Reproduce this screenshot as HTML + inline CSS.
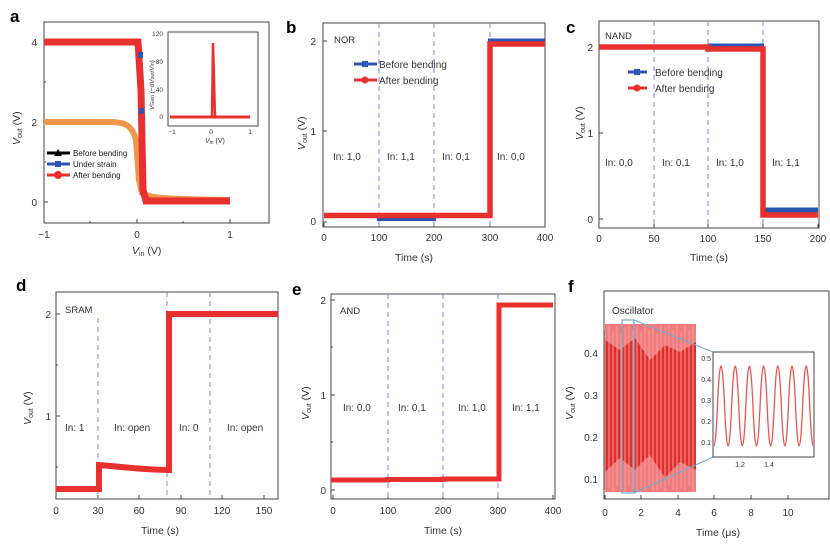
<!DOCTYPE html>
<html><head><meta charset="utf-8"><style>
body{margin:0;background:#fff}
svg{display:block;font-family:"Liberation Sans",sans-serif}
.t{font-size:10px;fill:#333}
.lb{font-size:10.5px;fill:#333}
.L{font-size:17px;font-weight:bold;fill:#000}
.ax{fill:none;stroke:#444;stroke-width:1}
.d{stroke:#7f86d8;stroke-width:1;stroke-dasharray:5,4}
</style></head><body>
<svg width="830" height="549" viewBox="0 0 830 549" xmlns="http://www.w3.org/2000/svg">
<!-- ===== a ===== -->
<text class="L" x="10" y="22">a</text>
<rect class="ax" x="44" y="22" width="225" height="201"/>
<path d="M44,223v-4M137,223v-4M230,223v-4M90,223v-2M183,223v-2M44,42h4M44,122h4M44,202h4M44,82h2M44,162h2" stroke="#444"/>
<text class="t" x="44" y="238" text-anchor="middle">−1</text>
<text class="t" x="137" y="238" text-anchor="middle">0</text>
<text class="t" x="230" y="238" text-anchor="middle">1</text>
<text class="t" x="37" y="46" text-anchor="end">4</text>
<text class="t" x="37" y="126" text-anchor="end">2</text>
<text class="t" x="37" y="206" text-anchor="end">0</text>
<text class="lb" x="132" y="254"><tspan font-style="italic">V</tspan><tspan font-size="7" dy="2">in</tspan><tspan dy="-2"> (V)</tspan></text>
<text class="lb" transform="translate(20,145) rotate(-90)"><tspan font-style="italic">V</tspan><tspan font-size="7" dy="2">out</tspan><tspan dy="-2"> (V)</tspan></text>
<path d="M44,122H110C125,122 132,125 136,140L139,180L142,193C150,198 160,199 230,200" fill="none" stroke="#f0964a" stroke-width="6"/>
<path d="M44,41H138L141,90L143,190L146,199H230" fill="none" stroke="#111" stroke-width="3"/>
<path d="M44,42H138L141,90L143,190L146,201H230" fill="none" stroke="#e8302e" stroke-width="7"/>
<rect x="138" y="52" width="5" height="6" fill="#2a55b0"/><rect x="139" y="108" width="5" height="6" fill="#2a55b0"/>
<line x1="47" y1="153" x2="70" y2="153" stroke="#000" stroke-width="3"/><path d="M58,149l4,7h-8z" fill="#000"/>
<line x1="47" y1="164" x2="70" y2="164" stroke="#2a55b0" stroke-width="3"/><rect x="55" y="161" width="6" height="6" fill="#2a55b0"/>
<line x1="47" y1="175" x2="70" y2="175" stroke="#e8302e" stroke-width="3"/><circle cx="58" cy="175" r="4" fill="#e8302e"/>
<text x="73" y="156" font-size="8" fill="#222">Before bending</text>
<text x="73" y="167" font-size="8" fill="#222">Under strain</text>
<text x="73" y="178" font-size="8" fill="#222">After bending</text>
<rect x="168" y="32" width="90" height="94" fill="#fff" stroke="#444"/>
<path d="M170,117H250" stroke="#e8302e" stroke-width="3"/>
<path d="M212,117L213,43L215,117" fill="none" stroke="#e8302e" stroke-width="2.5"/>
<text x="163" y="36" font-size="6.5" text-anchor="end" fill="#333">120</text>
<text x="163" y="64" font-size="6.5" text-anchor="end" fill="#333">80</text>
<text x="163" y="92" font-size="6.5" text-anchor="end" fill="#333">40</text>
<text x="163" y="119" font-size="6.5" text-anchor="end" fill="#333">0</text>
<text x="172" y="134" font-size="6.5" text-anchor="middle" fill="#333">−1</text>
<text x="211" y="134" font-size="6.5" text-anchor="middle" fill="#333">0</text>
<text x="250" y="134" font-size="6.5" text-anchor="middle" fill="#333">1</text>
<text x="205" y="143" font-size="7" fill="#333"><tspan font-style="italic">V</tspan><tspan font-size="5" dy="1">in</tspan><tspan dy="-1"> (V)</tspan></text>
<text transform="translate(154,110) rotate(-90)" font-size="6.5" fill="#333"><tspan font-style="italic">V</tspan><tspan font-size="5">Gain</tspan> (−d<tspan font-style="italic">V</tspan><tspan font-size="5">out</tspan>/<tspan font-style="italic">V</tspan><tspan font-size="5">in</tspan>)</text>

<!-- ===== b ===== -->
<text class="L" x="286" y="33">b</text>
<rect class="ax" x="323" y="23" width="222" height="204"/>
<path d="M324,227v-4M379,227v-4M434,227v-4M490,227v-4M545,227v-4M323,41h4M323,131h4M323,222h4" stroke="#444"/>
<line class="d" x1="379" y1="23" x2="379" y2="227"/><line class="d" x1="434" y1="23" x2="434" y2="227"/><line class="d" x1="490" y1="23" x2="490" y2="227"/>
<text class="t" x="324" y="241" text-anchor="middle">0</text><text class="t" x="379" y="241" text-anchor="middle">100</text><text class="t" x="434" y="241" text-anchor="middle">200</text><text class="t" x="490" y="241" text-anchor="middle">300</text><text class="t" x="545" y="241" text-anchor="middle">400</text>
<text class="t" x="316" y="45" text-anchor="end">2</text><text class="t" x="316" y="135" text-anchor="end">1</text><text class="t" x="316" y="225" text-anchor="end">0</text>
<text class="lb" x="414" y="261" text-anchor="middle">Time (s)</text>
<text class="lb" transform="translate(305,150) rotate(-90)"><tspan font-style="italic">V</tspan><tspan font-size="7" dy="2">out</tspan><tspan dy="-2"> (V)</tspan></text>
<path d="M324,216H379V219H436" fill="none" stroke="#2a55b0" stroke-width="4"/>
<path d="M488,41H545" stroke="#2a55b0" stroke-width="5"/>
<path d="M324,215.5H490V44H545" fill="none" stroke="#e8302e" stroke-width="5.5"/>
<text x="334" y="43" font-size="9.5" fill="#333">NOR</text>
<line x1="354" y1="64" x2="377" y2="64" stroke="#2a55b0" stroke-width="3"/><rect x="362" y="61" width="6" height="6" fill="#2a55b0"/>
<line x1="354" y1="80" x2="377" y2="80" stroke="#e8302e" stroke-width="3"/><circle cx="365" cy="80" r="3.5" fill="#e8302e"/>
<text x="379" y="68" font-size="10" fill="#333">Before bending</text>
<text x="379" y="84" font-size="10" fill="#333">After bending</text>
<text class="t" x="333" y="160">In: 1,0</text><text class="t" x="387" y="160">In: 1,1</text><text class="t" x="442" y="160">In: 0,1</text><text class="t" x="497" y="160">In: 0,0</text>

<!-- ===== c ===== -->
<text class="L" x="566" y="33">c</text>
<rect class="ax" x="599" y="21" width="220" height="207"/>
<path d="M599,228v-4M654,228v-4M708,228v-4M763,228v-4M818,228v-4M599,47h4M599,133h4M599,219h4" stroke="#444"/>
<line class="d" x1="654" y1="21" x2="654" y2="228"/><line class="d" x1="708" y1="21" x2="708" y2="228"/><line class="d" x1="763" y1="21" x2="763" y2="228"/>
<text class="t" x="599" y="242" text-anchor="middle">0</text><text class="t" x="654" y="242" text-anchor="middle">50</text><text class="t" x="708" y="242" text-anchor="middle">100</text><text class="t" x="763" y="242" text-anchor="middle">150</text><text class="t" x="818" y="242" text-anchor="middle">200</text>
<text class="t" x="593" y="51" text-anchor="end">2</text><text class="t" x="593" y="137" text-anchor="end">1</text><text class="t" x="593" y="223" text-anchor="end">0</text>
<text class="lb" x="709" y="261" text-anchor="middle">Time (s)</text>
<text class="lb" transform="translate(583,140) rotate(-90)"><tspan font-style="italic">V</tspan><tspan font-size="7" dy="2">out</tspan><tspan dy="-2"> (V)</tspan></text>
<path d="M708,46H764M763,210H818" fill="none" stroke="#2a55b0" stroke-width="5"/>
<path d="M599,47H708V49H763V215H818" fill="none" stroke="#e8302e" stroke-width="5.5"/>
<text x="605" y="39" font-size="9.5" fill="#333">NAND</text>
<line x1="628" y1="72" x2="647" y2="72" stroke="#2a55b0" stroke-width="3"/><rect x="634" y="69" width="6" height="6" fill="#2a55b0"/>
<line x1="628" y1="88" x2="647" y2="88" stroke="#e8302e" stroke-width="3"/><circle cx="637" cy="88" r="3.5" fill="#e8302e"/>
<text x="655" y="76" font-size="10" fill="#333">Before bending</text>
<text x="655" y="92" font-size="10" fill="#333">After bending</text>
<text class="t" x="605" y="166">In: 0,0</text><text class="t" x="662" y="166">In: 0,1</text><text class="t" x="716" y="166">In: 1,0</text><text class="t" x="772" y="166">In: 1,1</text>

<!-- ===== d ===== -->
<text class="L" x="16" y="291">d</text>
<rect class="ax" x="56" y="292" width="222" height="207"/>
<path d="M56,499v-4M98,499v-4M139,499v-4M181,499v-4M222,499v-4M264,499v-4M56,314h4M56,416h4M56,365h2M56,467h2" stroke="#444"/>
<line class="d" x1="98" y1="318" x2="98" y2="499"/><line class="d" x1="167" y1="292" x2="167" y2="499"/><line class="d" x1="210" y1="292" x2="210" y2="499"/>
<text class="t" x="56" y="514" text-anchor="middle">0</text><text class="t" x="98" y="514" text-anchor="middle">30</text><text class="t" x="139" y="514" text-anchor="middle">60</text><text class="t" x="181" y="514" text-anchor="middle">90</text><text class="t" x="222" y="514" text-anchor="middle">120</text><text class="t" x="264" y="514" text-anchor="middle">150</text>
<text class="t" x="51" y="318" text-anchor="end">2</text><text class="t" x="51" y="420" text-anchor="end">1</text>
<text class="lb" x="160" y="534" text-anchor="middle">Time (s)</text>
<text class="lb" transform="translate(31,425) rotate(-90)"><tspan font-style="italic">V</tspan><tspan font-size="7" dy="2">out</tspan><tspan dy="-2"> (V)</tspan></text>
<path d="M56,489H99V465C125,467 145,470 169,470V314H278" fill="none" stroke="#e8302e" stroke-width="6"/>
<text x="65" y="313" font-size="9.5" fill="#333">SRAM</text>
<text class="t" x="65" y="431">In: 1</text><text class="t" x="114" y="431">In: open</text><text class="t" x="179" y="431">In: 0</text><text class="t" x="227" y="431">In: open</text>

<!-- ===== e ===== -->
<text class="L" x="292" y="295">e</text>
<rect class="ax" x="331" y="294" width="224" height="205"/>
<path d="M333,499v-4M388,499v-4M443,499v-4M498,499v-4M553,499v-4M331,300h4M331,395h4M331,490h4M331,347h2M331,442h2" stroke="#444"/>
<line class="d" x1="388" y1="294" x2="388" y2="499"/><line class="d" x1="443" y1="294" x2="443" y2="499"/><line class="d" x1="498" y1="294" x2="498" y2="499"/>
<text class="t" x="333" y="514" text-anchor="middle">0</text><text class="t" x="388" y="514" text-anchor="middle">100</text><text class="t" x="443" y="514" text-anchor="middle">200</text><text class="t" x="498" y="514" text-anchor="middle">300</text><text class="t" x="553" y="514" text-anchor="middle">400</text>
<text class="t" x="326" y="304" text-anchor="end">2</text><text class="t" x="326" y="399" text-anchor="end">1</text><text class="t" x="326" y="494" text-anchor="end">0</text>
<text class="lb" x="443" y="534" text-anchor="middle">Time (s)</text>
<text class="lb" transform="translate(309,420) rotate(-90)"><tspan font-style="italic">V</tspan><tspan font-size="7" dy="2">out</tspan><tspan dy="-2"> (V)</tspan></text>
<path d="M331,480H388V479.5H443V479H499V305H553" fill="none" stroke="#e8302e" stroke-width="5"/>
<text x="340" y="314" font-size="9.5" fill="#333">AND</text>
<text class="t" x="343" y="411">In: 0,0</text><text class="t" x="398" y="411">In: 0,1</text><text class="t" x="458" y="411">In: 1,0</text><text class="t" x="512" y="411">In: 1,1</text>

<!-- ===== f ===== -->
<text class="L" x="568" y="292">f</text>
<rect class="ax" x="604" y="291" width="225" height="208"/>
<path d="M605,499v-4M641,499v-4M678,499v-4M714,499v-4M751,499v-4M788,499v-4M604,353h4M604,395h4M604,437h4M604,479h4" stroke="#444"/>
<text class="t" x="605" y="516" text-anchor="middle">0</text><text class="t" x="641" y="516" text-anchor="middle">2</text><text class="t" x="678" y="516" text-anchor="middle">4</text><text class="t" x="714" y="516" text-anchor="middle">6</text><text class="t" x="751" y="516" text-anchor="middle">8</text><text class="t" x="788" y="516" text-anchor="middle">10</text>
<text class="t" x="598" y="357" text-anchor="end">0.4</text><text class="t" x="598" y="399" text-anchor="end">0.3</text><text class="t" x="598" y="441" text-anchor="end">0.2</text><text class="t" x="598" y="483" text-anchor="end">0.1</text>
<text class="lb" x="718" y="536" text-anchor="middle">Time (μs)</text>
<text class="lb" transform="translate(573,420) rotate(-90)"><tspan font-style="italic">V</tspan><tspan font-size="7" dy="2">out</tspan><tspan dy="-2"> (V)</tspan></text>
<rect x="605" y="324" width="91" height="168" fill="#f27c7c"/>
<path d="M605,340 L620,350 L635,338 L650,360 L665,345 L680,352 L696,342 V470 L680,462 L665,478 L650,455 L635,470 L620,458 L605,472 Z" fill="#e42b2b"/>
<path d="M605,330V490M609,326V488M613,332V492M617,326V486M621,334V490M625,328V492M629,326V486M633,330V490M637,326V492M641,332V488M645,326V490M649,330V486M653,326V492M657,334V490M661,326V488M665,328V492M669,326V486M673,330V490M677,326V492M681,332V488M685,326V490M689,330V486M693,326V492" stroke="#f5a0a0" stroke-width="1"/>
<rect x="622" y="320" width="12" height="173" fill="none" stroke="#6aaed6" stroke-width="1.2"/>
<path d="M634,320L713,352M634,493L713,457" stroke="#6aaed6" stroke-width="1"/>
<text x="612" y="314" font-size="10" fill="#333">Oscillator</text>
<rect x="713" y="352" width="101" height="105" fill="#fff" stroke="#444"/>
<clipPath id="ci"><rect x="714" y="353" width="99" height="103"/></clipPath>
<path clip-path="url(#ci)" d="M710.35,406 Q713.9,486 717.45,406 T724.55,406 T731.65,406 T738.75,406 T745.85,406 T752.95,406 T760.05,406 T767.15,406 T774.25,406 T781.35,406 T788.45,406 T795.55,406 T802.65,406 T809.75,406 T816.85,406 T823.95,406" fill="none" stroke="#e85555" stroke-width="1.3"/>
<text x="711" y="361" font-size="7" text-anchor="end" fill="#333">0.5</text><text x="711" y="382" font-size="7" text-anchor="end" fill="#333">0.4</text><text x="711" y="403" font-size="7" text-anchor="end" fill="#333">0.3</text><text x="711" y="424" font-size="7" text-anchor="end" fill="#333">0.2</text><text x="711" y="445" font-size="7" text-anchor="end" fill="#333">0.1</text>
<text x="740" y="467" font-size="7" text-anchor="middle" fill="#333">1.2</text><text x="769" y="467" font-size="7" text-anchor="middle" fill="#333">1.4</text>
</svg>
</body></html>
